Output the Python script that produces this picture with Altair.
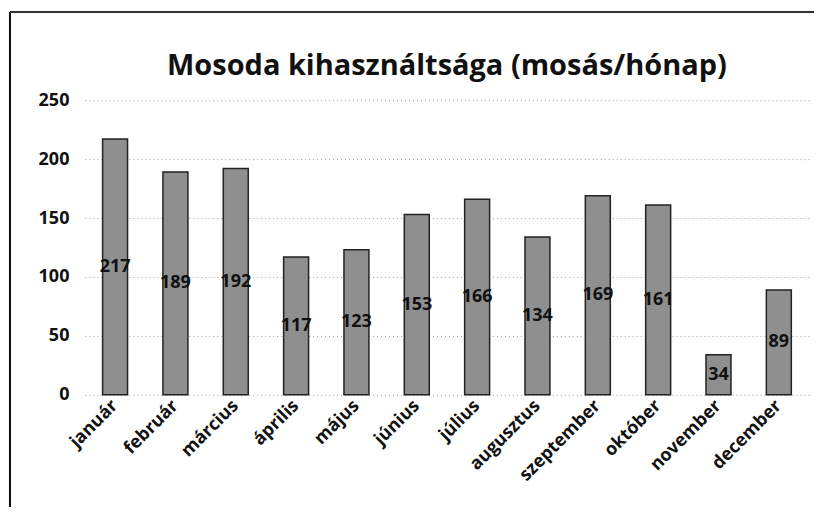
import altair as alt
import pandas as pd

months = ["január", "február", "március", "április", "május", "június",
          "július", "augusztus", "szeptember", "október", "november", "december"]
values = [217, 189, 192, 117, 123, 153, 166, 134, 169, 161, 34, 89]
y_ticks = [0, 50, 100, 150, 200, 250]

df = pd.DataFrame({"honap": months, "mosas": values})

FONT = "Open Sans"

x_enc = alt.X("honap:N", sort=months, title=None,
              scale=alt.Scale(paddingInner=0.58, paddingOuter=0.29),
              axis=alt.Axis(labelAngle=-45, labelAlign="right", labelBaseline="middle",
                            labelFontSize=18, labelFontWeight="bold", labelFont=FONT,
                            labelColor="#111", ticks=False, domain=False, labelPadding=8))
y_enc = alt.Y("mosas:Q", title=None,
              scale=alt.Scale(domain=[0, 250], nice=False),
              axis=alt.Axis(values=y_ticks, labelFontSize=18, labelFontWeight="bold",
                            labelFont=FONT, labelColor="#111", ticks=False, domain=False,
                            labelPadding=16, grid=True, gridColor="#9a9a9a",
                            gridDash=[1, 3], gridWidth=1))

bars = alt.Chart(df).mark_bar(size=25, color="#8f8f8f", stroke="#222", strokeWidth=1.5).encode(
    x=x_enc, y=y_enc
)

labels = alt.Chart(df).transform_calculate(mid="datum.mosas / 2").mark_text(
    font=FONT, fontSize=18, fontWeight="bold", color="#111", baseline="middle", align="center"
).encode(
    x=alt.X("honap:N", sort=months),
    y=alt.Y("mid:Q"),
    text=alt.Text("mosas:Q"),
)

frame_left = alt.Chart(df).mark_rule(color="#111", strokeWidth=2).encode(
    x=alt.value(-75), y=alt.value(-88), y2=alt.value(420)
)
frame_top = alt.Chart(df).mark_rule(color="#333", strokeWidth=1.5).encode(
    x=alt.value(-75), x2=alt.value(730), y=alt.value(-88)
)

chart = alt.layer(bars, labels, frame_left, frame_top).properties(
    width=725, height=295,
    title=alt.TitleParams("Mosoda kihasználtsága (mosás/hónap)", font=FONT, fontSize=29,
                          fontWeight="bold", color="#111", anchor="middle", offset=-70),
    padding={"left": 77, "top": 92, "right": 8, "bottom": 112},
    autosize=alt.AutoSizeParams(type="none"),
).configure_view(stroke=None)

chart.save("out.html", embed_options={"renderer": "svg", "actions": False})
